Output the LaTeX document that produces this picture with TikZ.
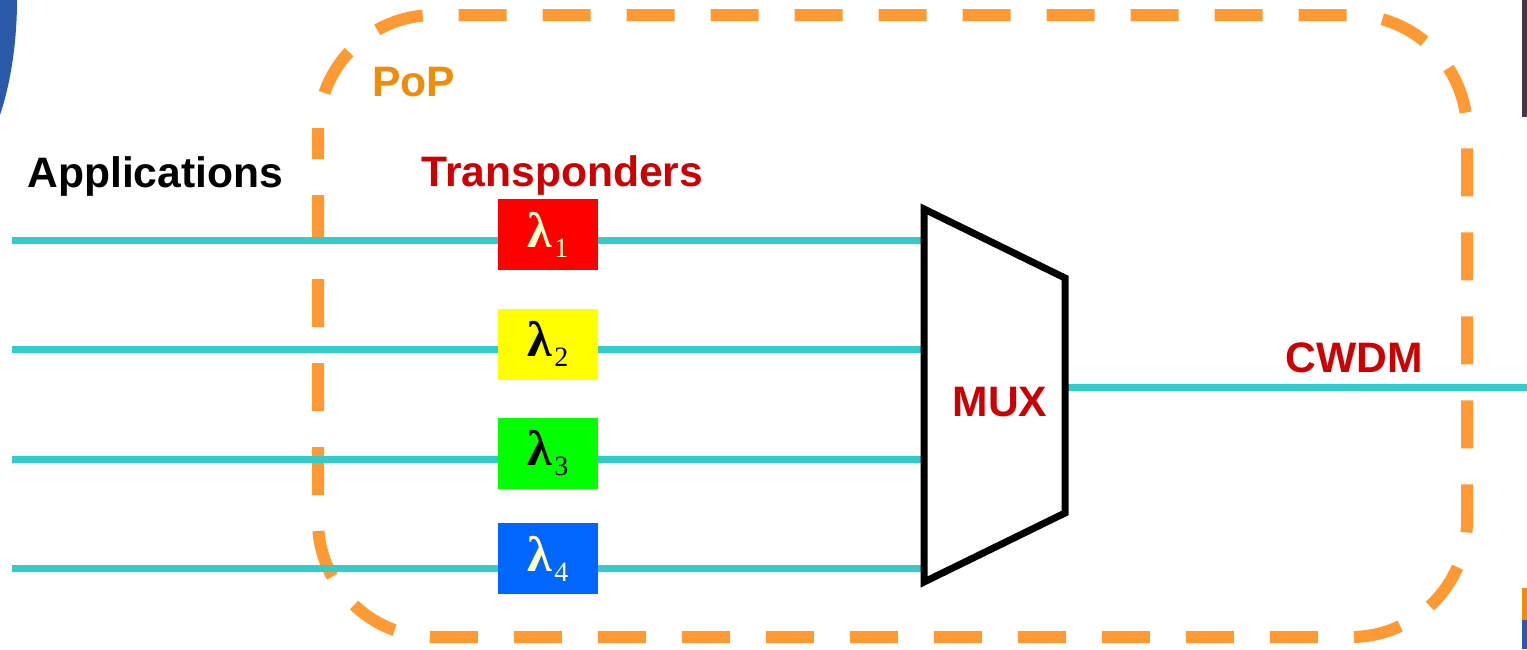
\documentclass[tikz,border=0pt]{standalone}
\usepackage{fontspec}
\setmainfont{Liberation Sans}
\newfontfamily\lamfont{Liberation Serif}
\definecolor{fiber}{RGB}{51,204,204}
\definecolor{popdash}{RGB}{255,153,51}
\definecolor{poptext}{RGB}{240,140,10}
\definecolor{darkred}{RGB}{204,0,0}
\definecolor{cream}{RGB}{255,255,204}
\definecolor{lblue}{RGB}{0,102,255}
\definecolor{lgreen}{RGB}{0,255,0}
\definecolor{lyellow}{RGB}{255,255,0}
\definecolor{lred}{RGB}{255,0,0}
\definecolor{edgeblue}{RGB}{44,90,170}
\definecolor{edgedark}{RGB}{70,55,70}
\tikzset{
  fiberline/.style={draw=fiber,line width=3.5pt},
  lambox/.style={minimum width=50pt,minimum height=35.5pt,inner sep=0pt,draw=none},
  lbl/.style={font=\fontsize{21.3}{24}\selectfont\bfseries,inner sep=0pt,anchor=base west},
  lamtxt/.style={font=\lamfont\fontsize{25}{28}\selectfont\bfseries},
}
\newcommand{\lam}[1]{λ\kern1pt\raisebox{-5pt}{\fontsize{14}{16}\selectfont\mdseries #1}}
\begin{document}
\begin{tikzpicture}[x=0.5pt,y=-0.5pt]
\useasboundingbox (0,0) rectangle (1527,649);
% edge fragments
\fill[edgeblue] (0,0) -- (17,0) .. controls (17,45) and (10,85) .. (0,115) -- cycle;
\fill[edgedark] (1522,0) rectangle (1527,117);
\fill[poptext] (1522,588) rectangle (1527,620);
\fill[edgeblue] (1522,620) rectangle (1527,649);
% PoP boundary
\draw[popdash,line width=6pt,dash pattern=on 24pt off 18pt,dash phase=10pt,rounded corners=58pt]
  (318,15) rectangle (1467,637);
\node[lbl,text=poptext] (pop) at (372,96) {PoP};
% mux
\coordinate (mtl) at (924,209);
\coordinate (mtr) at (1065,278);
\coordinate (mbr) at (1065,513);
\coordinate (mbl) at (924,582);
\coordinate (mout) at (1065,387);
\coordinate (cw) at (1527,387);
% fibers
\foreach \i/\y in {1/240,2/349,3/459,4/568}{
  \coordinate (in\i) at (12,\y);
  \coordinate (m\i) at (924,\y);
  \draw[fiberline] (in\i) -- (m\i);
}
\draw[fiberline] (mout) -- (cw);
\draw[line width=3.5pt,line join=miter] (mtl) -- (mtr) -- (mbr) -- (mbl) -- cycle;
\node[font=\fontsize{21.3}{24}\selectfont\bfseries,text=darkred,inner sep=0pt,anchor=base] (mux) at (1000,416) {MUX};
% transponders
\node[lambox,fill=lred,text=cream,lamtxt] (l1) at (548,234.5) {\lam{1}};
\node[lambox,fill=lyellow,text=black,lamtxt] (l2) at (548,344) {\lam{2}};
\node[lambox,fill=lgreen,text=black,lamtxt] (l3) at (548,453.5) {\lam{3}};
\node[lambox,fill=lblue,text=cream,lamtxt] (l4) at (548,558.5) {\lam{4}};
% labels
\node[lbl,text=black] (apps) at (27,187) {Applications};
\node[lbl,text=darkred] (tr) at (421,186) {Transponders};
\node[lbl,text=darkred] (cwdm) at (1285,372) {CWDM};
\end{tikzpicture}
\end{document}
